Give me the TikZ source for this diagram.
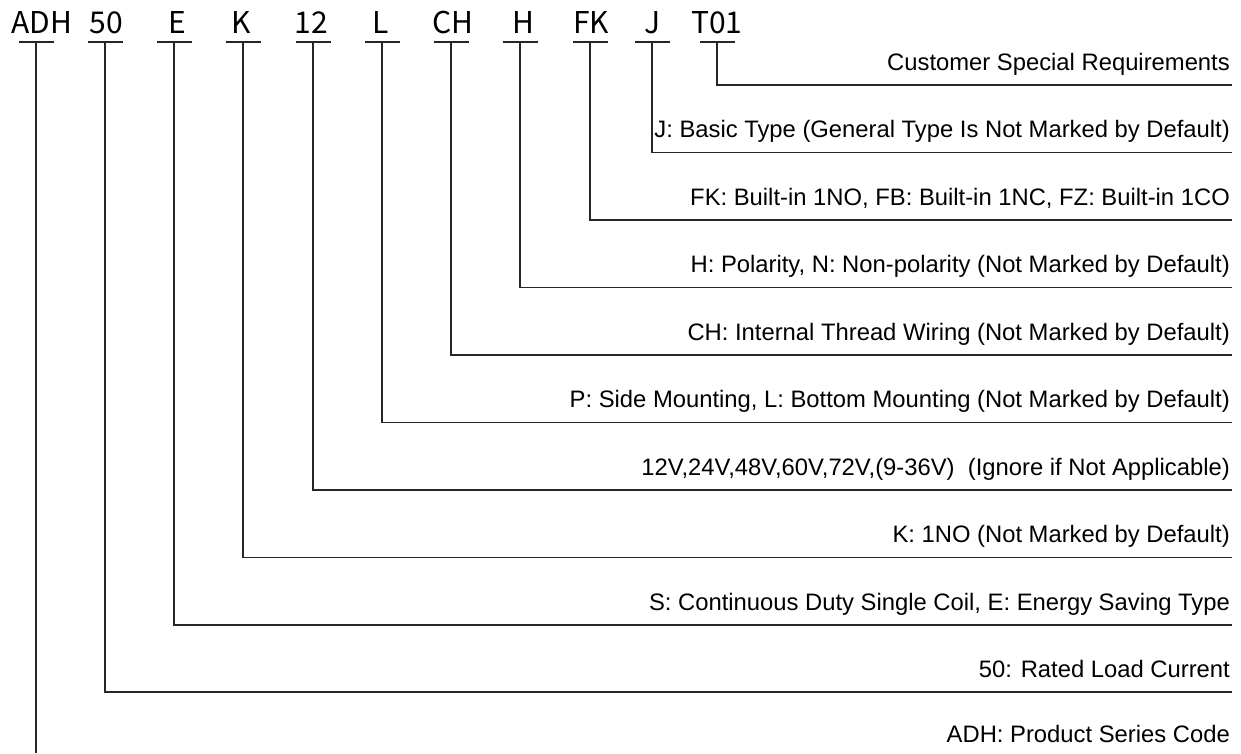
\documentclass[tikz,border=0pt]{standalone}
\usepackage{fontspec}
\setmainfont{Liberation Sans}
\newfontfamily\codefont{Noto Sans CJK SC}
\begin{document}
\begin{tikzpicture}
[x=1pt,y=-1pt,
  linedecorate/.style={-,line width=1.3pt,black!85},%
  codelabel/.style={anchor=base,inner sep=0pt,font=\codefont\fontsize{30}{30}\selectfont},%
  desclabel/.style={anchor=base east,inner sep=0pt,font=\fontsize{23.8}{24}\selectfont}]
\useasboundingbox (0,0) rectangle (1241,753);
%% codes along the top
\foreach \nodename/\txt/\x in {adh/ADH/42, cur/50/106, eng/E/177, con/K/241,
  vol/12/311, mnt/L/381, thr/CH/453, pol/H/523, aux/FK/591, typ/J/653,
  spc/T01/717} {
  \node (\nodename) at (\x,33) [codelabel] {\txt};
}
%% underlines, leaders and meanings
\foreach \nodename/\x/\y/\desc in {spc/717/85/{Customer Special Requirements},
  typ/652/152.5/{J: Basic Type (General Type Is Not Marked by Default)},
  aux/590/220/{FK: Built-in 1NO, FB: Built-in 1NC, FZ: Built-in 1CO},
  pol/520/287.5/{H: Polarity, N: Non-polarity (Not Marked by Default)},
  thr/451/355/{CH: Internal Thread Wiring (Not Marked by Default)},
  mnt/382/422.5/{P: Side Mounting, L: Bottom Mounting (Not Marked by Default)},
  vol/313/490/{12V,24V,48V,60V,72V,(9-36V)~ (Ignore if Not Applicable)},
  con/243/557.5/{K: 1NO (Not Marked by Default)},
  eng/174/625/{S: Continuous Duty Single Coil, E: Energy Saving Type},
  cur/105/692/{50: Rated Load Current}} {
  \coordinate (\nodename-u) at (\x,42);
  \coordinate (\nodename-e) at (1232,\y);
  \draw [linedecorate] ([xshift=-17.5pt]\nodename-u) -- ([xshift=17.5pt]\nodename-u);
  \draw [linedecorate] (\nodename-u) |- (\nodename-e);
  \node (\nodename-d) at (1230,\y-15) [desclabel] {\desc};
}
%% series code runs off the bottom
\coordinate (adh-u) at (36,42);
\coordinate (adh-e) at (36,753);
\draw [linedecorate] ([xshift=-17.5pt]adh-u) -- ([xshift=17.5pt]adh-u);
\draw [linedecorate] (adh-u) -- (adh-e);
\node (adh-d) at (1230,742) [desclabel] {ADH: Product Series Code};
\end{tikzpicture}
\end{document}
